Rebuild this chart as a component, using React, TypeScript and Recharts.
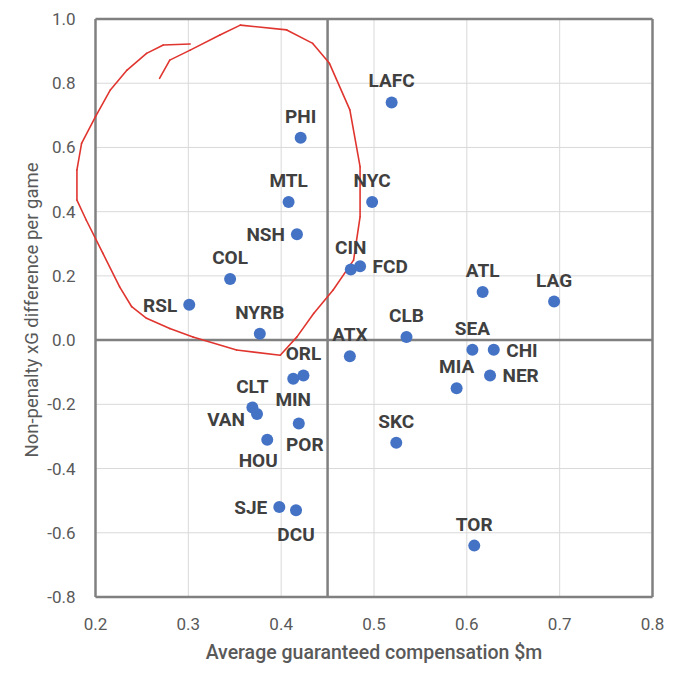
import React from 'react';
import {
  ScatterChart, Scatter,
  XAxis, YAxis,
  CartesianGrid, ReferenceLine, Label,
} from 'recharts';

const TEAMS = ['LAFC', 'PHI', 'MTL', 'NYC', 'NSH', 'CIN', 'FCD', 'COL', 'ATL', 'LAG', 'RSL', 'NYRB', 'CLB', 'SEA',
  'CHI', 'ATX', 'ORL', 'MIN', 'NER', 'MIA', 'CLT', 'VAN', 'POR', 'HOU', 'SKC', 'SJE', 'DCU', 'TOR'];
const COMPENSATION = [0.519, 0.421, 0.408, 0.498, 0.417, 0.475, 0.485, 0.345, 0.617, 0.694, 0.301, 0.377, 0.535, 0.606,
  0.629, 0.474, 0.424, 0.413, 0.625, 0.589, 0.369, 0.374, 0.419, 0.385, 0.524, 0.398, 0.416, 0.608];
const XG_DIFF = [0.74, 0.63, 0.43, 0.43, 0.33, 0.22, 0.23, 0.19, 0.15, 0.12, 0.11, 0.02, 0.01, -0.03,
  -0.03, -0.05, -0.11, -0.12, -0.11, -0.15, -0.21, -0.23, -0.26, -0.31, -0.32, -0.52, -0.53, -0.64];

const X_TICKS = [0.2, 0.3, 0.4, 0.5, 0.6, 0.7, 0.8];
const Y_TICKS = [-0.8, -0.6, -0.4, -0.2, 0, 0.2, 0.4, 0.6, 0.8, 1.0];
const X_SPLIT = 0.45;
const Y_SPLIT = 0;

// hand-drawn red loop, in data units
const ANNOTATION = [
  [0.302, 0.922], [0.273, 0.919], [0.255, 0.893], [0.234, 0.841], [0.216, 0.779], [0.2, 0.696],
  [0.185, 0.613], [0.18, 0.53], [0.18, 0.436], [0.19, 0.374], [0.208, 0.27], [0.226, 0.166],
  [0.239, 0.104], [0.255, 0.068], [0.28, 0.036], [0.305, 0.01], [0.352, -0.031], [0.399, -0.047],
  [0.417, 0.01], [0.435, 0.083], [0.456, 0.156], [0.478, 0.249], [0.485, 0.384], [0.485, 0.54],
  [0.474, 0.717], [0.452, 0.862], [0.434, 0.924], [0.406, 0.966], [0.356, 0.981], [0.334, 0.95],
  [0.302, 0.903], [0.28, 0.872], [0.269, 0.815],
];

const data = TEAMS.map((team, i) => ({ team, x: COMPENSATION[i], y: XG_DIFF[i] }));

/* label placement */
const LABEL_POS: Record<string, string> = {
  NSH: 'left', RSL: 'left', VAN: 'left', SJE: 'left',
  FCD: 'right', CHI: 'right', NER: 'right',
  MIN: 'bottom', POR: 'bottom', HOU: 'bottom', DCU: 'bottom',
};
const LABEL_NUDGE: Record<string, [number, number]> = {
  VAN: [0, 5], POR: [6, 0], HOU: [-9, 0], DCU: [0, 4],
};

const BLUE = '#4472C4';
const AXIS_GREY = '#808080';
const TEXT_GREY = '#595959';

function TeamDot(props: any) {
  const { cx, cy, payload } = props;
  const pos = LABEL_POS[payload.team] || 'top';
  const [nx, ny] = LABEL_NUDGE[payload.team] || [0, 0];
  let tx = cx, ty = cy - 15, anchor = 'middle';
  if (pos === 'bottom') ty = cy + 27;
  if (pos === 'left') { tx = cx - 12; ty = cy + 7; anchor = 'end'; }
  if (pos === 'right') { tx = cx + 12.5; ty = cy + 7; anchor = 'start'; }
  return (
    <g>
      <circle cx={cx} cy={cy} r={6} fill={BLUE} />
      <text x={tx + nx} y={ty + ny} textAnchor={anchor} fontFamily="Roboto" fontWeight={700} fontSize={19} fill="#404040">
        {payload.team}
      </text>
    </g>
  );
}

const fmt = (v: number) => v.toFixed(1);

export default function App() {
  return (
    <div style={{ position: 'absolute', left: 0, top: 0, background: '#fff' }}>
      <ScatterChart width={680} height={680} margin={{ top: 19, right: 27.5, bottom: 0, left: 0 }}>
        <CartesianGrid stroke="#d9d9d9" strokeWidth={1} />
        <XAxis
          type="number" dataKey="x" domain={[0.2, 0.8]} ticks={X_TICKS} tickFormatter={fmt}
          height={83} axisLine={false} tickLine={false} tickSize={0} tickMargin={21}
          tick={{ fontFamily: 'Roboto', fontSize: 17, fill: TEXT_GREY }}
        >
          <Label
            content={({ viewBox }: any) => (
              <text x={viewBox.x + viewBox.width / 2} y={viewBox.y + 62} textAnchor="middle"
                fontFamily="Roboto" fontWeight={500} fontSize={19.5} fill={TEXT_GREY}>
                Average guaranteed compensation $m
              </text>
            )}
          />
        </XAxis>
        <YAxis
          type="number" dataKey="y" domain={[-0.8, 1.0]} ticks={Y_TICKS} tickFormatter={fmt}
          width={95.5} axisLine={false} tickLine={false} tickSize={0} tickMargin={20}
          tick={{ fontFamily: 'Roboto', fontSize: 17, fill: TEXT_GREY }}
        >
          <Label
            content={({ viewBox }: any) => {
              const cy = viewBox.y + viewBox.height / 2 + 2;
              return (
                <text x={38} y={cy} textAnchor="middle" transform={`rotate(-90, 38, ${cy})`}
                  fontFamily="Roboto" fontSize={18.5} fill={TEXT_GREY}>
                  Non-penalty xG difference per game
                </text>
              );
            }}
          />
        </YAxis>
        <ReferenceLine x={0.2} stroke={AXIS_GREY} strokeWidth={2.5} />
        <ReferenceLine x={0.8} stroke={AXIS_GREY} strokeWidth={2.5} />
        <ReferenceLine y={-0.8} stroke={AXIS_GREY} strokeWidth={2.5} />
        <ReferenceLine y={1.0} stroke={AXIS_GREY} strokeWidth={2.5} />
        <ReferenceLine x={X_SPLIT} stroke={AXIS_GREY} strokeWidth={2.5} />
        <ReferenceLine y={Y_SPLIT} stroke={AXIS_GREY} strokeWidth={2.5} />
        <Scatter data={data} shape={TeamDot} isAnimationActive={false} />
        {ANNOTATION.slice(1).map((p, i) => (
          <ReferenceLine
            key={i}
            segment={[{ x: ANNOTATION[i][0], y: ANNOTATION[i][1] }, { x: p[0], y: p[1] }]}
            ifOverflow="visible"
            stroke="#E0352F" strokeWidth={1.6} strokeLinecap="round"
          />
        ))}
      </ScatterChart>
    </div>
  );
}
